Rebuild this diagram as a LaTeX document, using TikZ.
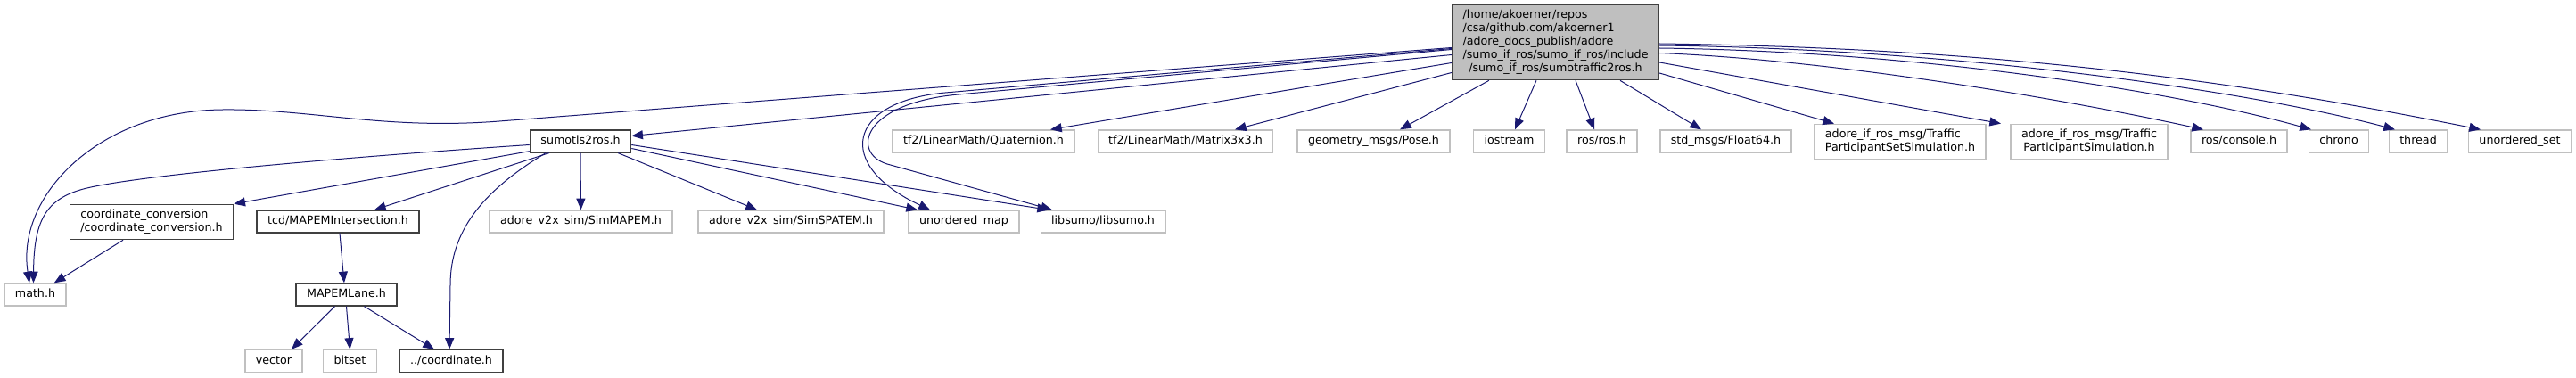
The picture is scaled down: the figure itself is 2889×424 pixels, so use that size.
\documentclass[tikz,border=0pt]{standalone}
\usepackage{fontspec}
\setmainfont{DejaVu Sans}
\usepackage{tikz}
\usetikzlibrary{arrows.meta,calc,positioning}
\definecolor{EdgeBlue}{HTML}{191970}
\definecolor{LineDark}{HTML}{404040}
\definecolor{LineSoft}{HTML}{C0C0C0}
\definecolor{FillMain}{HTML}{BFBFBF}
\newcommand{\graphfont}{\fontsize{9.5}{11.25}\selectfont}
\newcommand{\lastrow}[1]{\multicolumn{1}{@{}c@{}}{#1}}
\tikzset{
  hdr/.style={rectangle, font=\graphfont, fill=white, line width=1pt,
    inner xsep=9pt, inner ysep=3.5pt, minimum height=18.75pt},
  inchdr/.style={hdr, draw=LineDark},
  syshdr/.style={hdr, draw=LineSoft},
  oneline/.style={text height=7pt, text depth=2pt},
  incl/.style={draw=EdgeBlue, line width=0.75pt, -{Triangle[length=9.5pt,width=7.5pt]}}
}

\begin{document}
\begin{tikzpicture}[x=0.75pt,y=-0.75pt]
    \useasboundingbox (0,0) rectangle (2889,424);

    \node[inchdr, fill=FillMain] (main) at (1744.5,47.5) {\begin{tabular}{@{}l@{}}/home/akoerner/repos\\/csa/github.com/akoerner1\\/adore\_docs\_publish/adore\\/sumo\_if\_ros/sumo\_if\_ros/include\\\lastrow{/sumo\_if\_ros/sumotraffic2ros.h}\end{tabular}};

    \node[inchdr, oneline] (tlsros) at (651,158.5) {sumotls2ros.h};
    \node[syshdr, oneline] (quat) at (1103,158.5) {tf2/LinearMath/Quaternion.h};
    \node[syshdr, oneline] (matrix) at (1329.5,158.5) {tf2/LinearMath/Matrix3x3.h};
    \node[syshdr, oneline] (pose) at (1540.5,158.5) {geometry\_msgs/Pose.h};
    \node[syshdr, oneline] (iostream) at (1692.5,158.5) {iostream};
    \node[syshdr, oneline] (rosh) at (1796.5,158.5) {ros/ros.h};
    \node[syshdr, oneline] (float64) at (1935.5,158.5) {std\_msgs/Float64.h};
    \node[syshdr] (partset) at (2131,159) {\begin{tabular}{@{}l@{}}adore\_if\_ros\_msg/Traffic\\\lastrow{ParticipantSetSimulation.h}\end{tabular}};
    \node[syshdr] (partsim) at (2343,159) {\begin{tabular}{@{}l@{}}adore\_if\_ros\_msg/Traffic\\\lastrow{ParticipantSimulation.h}\end{tabular}};
    \node[syshdr, oneline] (console) at (2511,158.5) {ros/console.h};
    \node[syshdr, oneline] (chrono) at (2623,158.5) {chrono};
    \node[syshdr, oneline] (thread) at (2712,158.5) {thread};
    \node[syshdr, oneline] (uset) at (2826,158.5) {unordered\_set};

    \node[inchdr] (coordconv) at (170,249) {\begin{tabular}{@{}l@{}}coordinate\_conversion\\\lastrow{/coordinate\_conversion.h}\end{tabular}};
    \node[inchdr, oneline] (mapemint) at (379,248.5) {tcd/MAPEMIntersection.h};
    \node[syshdr, oneline] (simmapem) at (651.5,248.5) {adore\_v2x\_sim/SimMAPEM.h};
    \node[syshdr, oneline] (simspatem) at (887,248.5) {adore\_v2x\_sim/SimSPATEM.h};
    \node[syshdr, oneline] (umap) at (1081,248.5) {unordered\_map};
    \node[syshdr, oneline] (libsumo) at (1237,248.5) {libsumo/libsumo.h};

    \node[syshdr, oneline] (mathh) at (39.5,330.5) {math.h};
    \node[inchdr, oneline] (mapemlane) at (388.5,330.5) {MAPEMLane.h};

    \node[syshdr, oneline] (vector) at (307,405) {vector};
    \node[syshdr, oneline] (bitset) at (392.5,405) {bitset};
    \node[inchdr, oneline] (coordh) at (506,405) {../coordinate.h};

    \draw[incl] ($(main.west)+(0,6)$) -- (560,136) .. controls (430,146) and (350,122) .. (250,123) .. controls (110,124) and (18,220) .. ($(mathh.north)+(-6.5,0)$);
    \draw[incl] ($(main.west)+(0,14)$) -- ($(tlsros.east)+(0,-6)$);
    \draw[incl] ($(main.west)+(0,7)$) -- (1060,104) .. controls (950,114) and (935,185) .. ($(umap.north)+(-38,0)$);
    \draw[incl] ($(main.west)+(0,8)$) -- (1075,106) .. controls (965,116) and (955,172) .. (995,184) -- ($(libsumo.north)+(-57,0)$);
    \draw[incl] ($(main.west)+(0,23)$) -- ($(quat.north)+(75,0)$);
    \draw[incl] ($(main.west)+(0,34)$) -- ($(matrix.north)+(55.5,0)$);
    \draw[incl] ($(main.south west)+(42,0)$) -- ($(pose.north)+(29.5,0)$);
    \draw[incl] ($(main.south)+(-21.5,0)$) -- ($(iostream.north)+(6.5,0)$);
    \draw[incl] ($(main.south)+(22.5,0)$) -- ($(rosh.north)+(-8.5,0)$);
    \draw[incl] ($(main.south)+(72.5,0)$) -- ($(float64.north)+(-27.5,0)$);
    \draw[incl] ($(main.east)+(0,34.5)$) -- ($(partset.north)+(-74,0)$);
    \draw[incl] ($(main.east)+(0,22.5)$) -- ($(partsim.north)+(-99,0)$);
    \draw[incl] ($(main.east)+(0,12)$) .. controls +(200,8) and +(-150,-33) .. ($(console.north)+(-40,0)$);
    \draw[incl] ($(main.east)+(0,6.5)$) .. controls +(300,4) and +(-150,-42) .. ($(chrono.north)+(-31,0)$);
    \draw[incl] ($(main.east)+(0,3.5)$) .. controls +(350,4) and +(-150,-40) .. ($(thread.north)+(-26,0)$);
    \draw[incl] ($(main.east)+(0,1.5)$) .. controls +(400,5) and +(-250,-50) .. ($(uset.north)+(-44,0)$);

    \draw[incl] ($(tlsros.west)+(0,4)$) .. controls (450,172) and (150,195) .. (90,213) .. controls (50,225) and (38,250) .. ($(mathh.north)+(-2,0)$);
    \draw[incl] ($(tlsros.south west)+(0,-2)$) -- (coordconv.north east);
    \draw[incl] ($(tlsros.south west)+(22,0)$) -- ($(mapemint.north)+(41,0)$);
    \draw[incl] ($(tlsros.south)+(-39,0)$) .. controls (540,215) and (505,260) .. (505,320) -- ($(coordh.north)+(-2,0)$);
    \draw[incl] (tlsros.south) -- (simmapem.north);
    \draw[incl] ($(tlsros.south east)+(-15,0)$) -- ($(simspatem.north)+(-38,0)$);
    \draw[incl] ($(tlsros.east)+(0,8)$) -- ($(umap.north)+(-52,0)$);
    \draw[incl] ($(tlsros.east)+(0,4)$) -- ($(libsumo.north)+(-61,0)$);

    \draw[incl] ($(coordconv.south)+(-32,0)$) -- ($(mathh.north east)+(-14,0)$);
    \draw[incl] ($(mapemint.south)+(2,0)$) -- ($(mapemlane.north)+(-2.5,0)$);
    \draw[incl] ($(mapemlane.south)+(-13,0)$) -- ($(vector.north)+(20,0)$);
    \draw[incl] (mapemlane.south) -- (bitset.north);
    \draw[incl] ($(mapemlane.south)+(20,0)$) -- ($(coordh.north)+(-19,0)$);
  \end{tikzpicture}
\end{document}
